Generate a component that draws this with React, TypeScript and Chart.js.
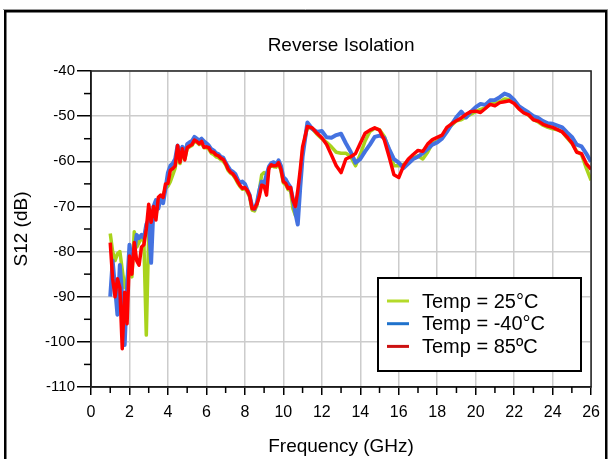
import React, { useEffect, useRef } from "react";
import { Chart, registerables } from "chart.js";

Chart.register(...registerables);

// Frequency points (GHz)
const FREQ: number[] = [
  1.0, 1.125, 1.25, 1.375, 1.5, 1.625, 1.75, 1.875,
  2.0, 2.125, 2.25, 2.375, 2.5, 2.625, 2.75, 2.875,
  3.0, 3.125, 3.25, 3.375, 3.5, 3.625, 3.75, 3.875,
  4.0, 4.125, 4.25, 4.375, 4.5, 4.625, 4.75, 4.875,
  5.0, 5.125, 5.25, 5.375, 5.5, 5.625, 5.75, 5.875,
  6.0, 6.125, 6.25, 6.375, 6.5, 6.625, 6.75, 6.875,
  7.0, 7.125, 7.25, 7.375, 7.5, 7.625, 7.75, 7.875,
  8.0, 8.125, 8.25, 8.375, 8.5, 8.625, 8.75, 8.875,
  9.0, 9.125, 9.25, 9.375, 9.5, 9.625, 9.75, 9.875,
  10.0, 10.125, 10.25, 10.375, 10.5, 10.625, 10.75, 10.875,
  11.0,
  11.25, 11.5, 11.75, 12.0,
  12.25, 12.5, 12.75, 13.0,
  13.25, 13.5, 13.75, 14.0,
  14.25, 14.5, 14.75, 15.0,
  15.25, 15.5, 15.75, 16.0,
  16.25, 16.5, 16.75, 17.0,
  17.25, 17.5, 17.75, 18.0,
  18.25, 18.5, 18.75, 19.0,
  19.25, 19.5, 19.75, 20.0,
  20.25, 20.5, 20.75, 21.0,
  21.25, 21.5, 21.75, 22.0,
  22.25, 22.5, 22.75, 23.0,
  23.25, 23.5, 23.75, 24.0,
  24.25, 24.5, 24.75, 25.0,
  25.25, 25.5, 25.75, 26.0,
];

// S12 (dB), Temp = 25°C
const S12_25C: number[] = [
  -76, -80, -82, -80.5, -80, -84, -88, -86,
  -83, -85.6, -75.6, -79, -78, -76.5, -78, -98.5,
  -76, -74, -70.5, -72, -69, -68, -67.5, -66,
  -65.5, -64.5, -63, -61.5, -58, -60.5, -57.8, -59.5,
  -57.2, -56.8, -56.5, -55.6, -55.8, -56.3, -56, -57,
  -57, -57.3, -58.2, -58.5, -59, -59.2, -59.6, -60,
  -60.8, -62, -62.6, -63, -63.8, -64.8, -65.6, -66.2,
  -66, -66.8, -68, -70.8, -71, -69.8, -66.5, -63,
  -62.5, -63, -61.5, -61, -61.2, -61.3, -60.6, -62,
  -64.8, -65.2, -66.3, -66.5, -70.5, -72, -68, -63,
  -57.5,
  -52.4, -52.8, -54, -55,
  -55.8, -56.8, -58, -58.2,
  -58.2, -59, -61, -58.5,
  -55.5, -53.4, -52.7, -53,
  -54.5, -57.5, -61, -61,
  -60.7, -60.2, -59.3, -58.8,
  -59.5, -58, -56, -55.5,
  -54.6, -53, -52, -51,
  -50.8, -50.2, -49.6, -49,
  -48.5, -48.2, -47.2, -47.2,
  -46.8, -46.2, -46.3, -47,
  -48.3, -49.2, -49.8, -50.8,
  -51.3, -52, -52.5, -52.8,
  -53, -53.5, -54.8, -56,
  -57.8, -58.5, -61.5, -64.2,
];

// S12 (dB), Temp = -40°C
const S12_M40C: number[] = [
  -90, -82, -88, -94, -83, -90, -100.7, -88,
  -78.5, -82, -80, -76.3, -77, -76.3, -77, -74,
  -73, -82.5, -70, -68.6, -70.5, -68, -69.3, -66,
  -62.5, -61, -60.5, -59.5, -56.5, -58, -56.8, -58.5,
  -56.2, -55.8, -55.5, -54.6, -55, -55.4, -55, -55.6,
  -56, -56.5, -57.3, -57.6, -58.2, -58.4, -59, -59.2,
  -60.3, -61.2, -62, -62.3, -62.8, -64, -64.8, -64.5,
  -65, -66.3, -67.5, -70, -70.6, -69.2, -66.5, -64.5,
  -65, -63, -61.2, -60.4, -60.2, -60.8, -59.8, -61,
  -63.5, -64, -65, -65.8, -68.5, -71.5, -74, -66,
  -59,
  -51.4, -52.8, -53.5, -53.3,
  -54.7, -54.8, -54.2, -53.9,
  -56, -57.9, -60.3, -59.5,
  -57.8, -56.3, -54.6, -54.3,
  -54.8, -57.3, -59.5, -60.3,
  -61.5, -60.5, -59.5, -59,
  -58.2, -57.3, -56.3, -55.8,
  -55, -53.5, -51.8, -50.2,
  -49, -50.3, -49, -48,
  -47.3, -47.5, -46.5, -46.4,
  -45.8, -45, -45.4, -46.4,
  -47.8, -48.5, -49.2, -50,
  -50.4, -51.1, -51.6, -51.7,
  -52.1, -52.5, -53.6, -54.6,
  -56.3, -56.7, -58.3, -60.1,
];

// S12 (dB), Temp = 85ºC
const S12_85C: number[] = [
  -78, -86, -90, -86, -88, -101.5, -89, -96,
  -81, -85, -78, -82, -83, -79, -78.5, -75,
  -69.5, -73.5, -70, -73, -68, -67.5, -68, -65,
  -64.9, -62, -61.6, -61, -56.5, -60.2, -57.2, -59.7,
  -57, -56.6, -56.3, -55.3, -55.6, -56.1, -55.6, -56.9,
  -56.8, -57, -57.9, -58, -58.6, -58.8, -59.3, -59.6,
  -60.5, -61.7, -62.4, -62.8, -63.5, -64.5, -65.4, -66,
  -65.8, -66.5, -67.6, -70.5, -70.5, -69.5, -67.8, -65.3,
  -65.5, -67.5, -61.5, -60.8, -61, -61, -60.3, -61.8,
  -64.5, -64.9, -66, -65.8, -68.6, -70, -66.5, -62,
  -56.8,
  -52.3, -52.6, -53.8, -54.8,
  -56.3, -58.6, -61, -62.5,
  -59.5, -59, -58.3, -56,
  -53.8, -53.1, -52.6, -53.1,
  -55.3, -59, -63, -63.6,
  -61, -59.5, -58.5, -57.6,
  -57.8, -56.2, -55.2, -54.7,
  -54.2, -52.5, -51.7, -51,
  -50.4, -49.6, -49, -48.9,
  -49.2, -48.3, -47.4, -47.7,
  -47, -46.8, -46.6, -47.2,
  -48.4, -49.3, -49.7, -50.8,
  -51.1, -51.8, -52.2, -52.5,
  -53, -53.5, -54.6, -55.9,
  -58, -58.3, -60.5, -61.8,
];

const SERIES_LABELS = ["Temp = 25°C", "Temp = -40°C", "Temp = 85ºC"];
const SERIES_COLORS = ["#a9d31c", "#4472e0", "#ff0000"];
const LEGEND_COLORS = ["#b4da2a", "#1f72cc", "#cc1111"];

const X_TICKS = [0, 2, 4, 6, 8, 10, 12, 14, 16, 18, 20, 22, 24, 26];
const X_MINOR = [1, 3, 5, 7, 9, 11, 13, 15, 17, 19, 21, 23, 25];
const Y_TICKS = [-110, -100, -90, -80, -70, -60, -50, -40];
const Y_MINOR = [-105, -95, -85, -75, -65, -55, -45];

const FONT = "'Liberation Sans', Arial, sans-serif";

const decorPlugin = {
  id: "decor",
  beforeDraw(chart: any) {
    const ctx = chart.ctx;
    ctx.save();
    ctx.fillStyle = "#ffffff";
    ctx.fillRect(0, 0, chart.width, chart.height);
    ctx.restore();
  },
  afterDraw(chart: any) {
    const ctx = chart.ctx;
    const a = chart.chartArea;
    const xs = chart.scales.x;
    const ys = chart.scales.y;
    ctx.save();
    // plot border
    ctx.strokeStyle = "#222";
    ctx.lineWidth = 1.5;
    ctx.strokeRect(a.left, a.top, a.right - a.left, a.bottom - a.top);
    // minor ticks
    ctx.strokeStyle = "#000";
    ctx.lineWidth = 1.5;
    X_MINOR.forEach((v) => {
      const px = xs.getPixelForValue(v);
      ctx.beginPath();
      ctx.moveTo(px, a.bottom);
      ctx.lineTo(px, a.bottom + 6);
      ctx.stroke();
    });
    Y_MINOR.forEach((v) => {
      const py = ys.getPixelForValue(v);
      ctx.beginPath();
      ctx.moveTo(a.left - 7, py);
      ctx.lineTo(a.left, py);
      ctx.stroke();
    });
    // legend box
    const lx = 378, ly = 278, lw = 203, lh = 93;
    ctx.fillStyle = "#fff";
    ctx.fillRect(lx, ly, lw, lh);
    ctx.strokeStyle = "#000";
    ctx.lineWidth = 2;
    ctx.strokeRect(lx, ly, lw, lh);
    ctx.font = `20px ${FONT}`;
    ctx.textBaseline = "middle";
    ctx.textAlign = "left";
    SERIES_LABELS.forEach((lab, i) => {
      const y = ly + 23 + i * 22.7;
      ctx.strokeStyle = LEGEND_COLORS[i];
      ctx.lineWidth = 3;
      ctx.beginPath();
      ctx.moveTo(lx + 9, y);
      ctx.lineTo(lx + 31, y);
      ctx.stroke();
      ctx.fillStyle = "#000";
      ctx.fillText(lab, lx + 44, y + 1);
    });
    // outer frame
    ctx.strokeStyle = "#9a9a9a";
    ctx.lineWidth = 1;
    ctx.beginPath();
    ctx.moveTo(3, 9.5);
    ctx.lineTo(608, 9.5);
    ctx.stroke();
    ctx.strokeStyle = "#000";
    ctx.lineWidth = 2.5;
    ctx.strokeRect(5.25, 11.25, 601, 500);
    ctx.restore();
  },
};

export default function App() {
  const ref = useRef<HTMLCanvasElement | null>(null);

  useEffect(() => {
    if (!ref.current) return;
    const series = [S12_25C, S12_M40C, S12_85C];
    const orders = [3, 2, 1];
    const widths = [3.5, 4, 3.5];
    const chart = new Chart(ref.current, {
      type: "line",
      data: {
        datasets: series.map((arr, i) => ({
          label: SERIES_LABELS[i],
          data: FREQ.map((f, j) => ({ x: f, y: arr[j] })),
          borderColor: SERIES_COLORS[i],
          backgroundColor: SERIES_COLORS[i],
          borderWidth: widths[i],
          pointRadius: 0,
          tension: 0,
          fill: false,
          borderJoinStyle: "round",
          order: orders[i],
        })),
      },
      options: {
        responsive: false,
        animation: false,
        devicePixelRatio: 1,
        layout: { padding: { left: 0, right: 16, top: 0, bottom: 0 } },
        plugins: {
          legend: { display: false },
          tooltip: { enabled: false },
          title: {
            display: true,
            fullSize: false,
            text: "Reverse Isolation",
            color: "#000",
            font: { family: FONT, size: 19, weight: "normal" },
            padding: { top: 34, bottom: 14.2 },
          },
        },
        scales: {
          x: {
            type: "linear",
            min: 0,
            max: 26,
            afterBuildTicks: (s: any) => {
              s.ticks = X_TICKS.map((v) => ({ value: v }));
            },
            afterFit: (s: any) => {
              s.height = 72;
            },
            grid: {
              color: "#cccccc",
              lineWidth: 1.5,
              drawTicks: true,
              tickLength: 8,
              tickColor: "#000",
              tickWidth: 1.5,
            },
            border: { display: true, color: "#000", width: 1.5 },
            ticks: {
              color: "#000",
              font: { family: FONT, size: 16 },
              padding: 8,
              maxRotation: 0,
              autoSkip: false,
            },
            title: {
              display: true,
              text: "Frequency (GHz)",
              color: "#000",
              font: { family: FONT, size: 19 },
              padding: { top: 0, bottom: 1 },
            },
          },
          y: {
            type: "linear",
            min: -110,
            max: -40,
            afterBuildTicks: (s: any) => {
              s.ticks = Y_TICKS.map((v) => ({ value: v }));
            },
            afterFit: (s: any) => {
              s.width = 91;
            },
            grid: {
              color: "#cccccc",
              lineWidth: 1.5,
              drawTicks: true,
              tickLength: 14,
              tickColor: "#000",
              tickWidth: 1.5,
            },
            border: { display: true, color: "#000", width: 1.5 },
            ticks: {
              color: "#000",
              font: { family: FONT, size: 15 },
              padding: 2,
              autoSkip: false,
            },
            title: {
              display: true,
              text: "S12 (dB)",
              color: "#000",
              font: { family: FONT, size: 19 },
              padding: { top: 10.6, bottom: 0 },
            },
          },
        },
      } as any,
      plugins: [decorPlugin],
    });
    return () => chart.destroy();
  }, []);

  return (
    <div style={{ position: "fixed", left: 0, top: 0, width: 608, height: 459, background: "#fff" }}>
      <canvas ref={ref} width={608} height={459} style={{ display: "block", width: 608, height: 459 }} />
    </div>
  );
}
